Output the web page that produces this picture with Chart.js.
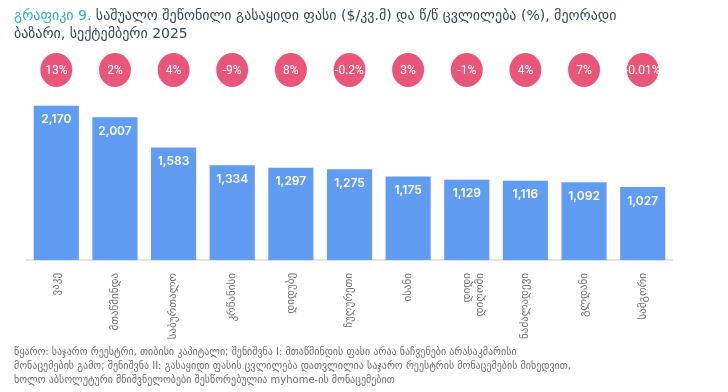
<!DOCTYPE html>
<html>
<head>
<meta charset="utf-8">
<script src="https://cdn.jsdelivr.net/npm/chart.js@4.4.0/dist/chart.umd.min.js"></script>
<style>
  html, body { margin: 0; padding: 0; background: #fff; }
  #wrap { position: relative; width: 728px; height: 392px; overflow: hidden; }
  #chart { position: absolute; left: 0; top: 0; }
  .title { position: absolute; left: 14px; top: 6px; width: 700px; font: 14px "DejaVu Sans", sans-serif; color: #34495e; line-height: 18px; }
  .title span { color: #2ab3bd; }
  .note { position: absolute; left: 14px; top: 345px; width: 710px; font: 10px "DejaVu Sans", sans-serif; color: #6b6b6b; line-height: 14px; }
</style>
</head>
<body>
<div id="wrap">
  <canvas id="chart" width="728" height="392"></canvas>
  <div class="title"><span>გრაფიკი 9.</span> საშუალო შეწონილი გასაყიდი ფასი ($/კვ.მ) და წ/წ ცვლილება (%), მეორადი<br>ბაზარი, სექტემბერი 2025</div>
  <div class="note">წყარო: საჯარო რეესტრი, თიბისი კაპიტალი; შენიშვნა I: მთაწმინდის ფასი არაა ნაჩვენები არასაკმარისი<br>მონაცემების გამო; შენიშვნა II: გასაყიდი ფასის ცვლილება დათვლილია საჯარო რეესტრის მონაცემების მიხედვით,<br>ხოლო აბსოლუტური მნიშვნელობები შესწორებულია myhome-ის მონაცემებით</div>
</div>
<script>
//********************* data *********************
const districts = ['ვაკე', 'მთაწმინდა', 'საბურთალო', 'კრწანისი', 'დიდუბე', 'ჩუღურეთი', 'ისანი', ['დიდი', 'დიღომი'], 'ნაძალადევი', 'გლდანი', 'სამგორი'];
const prices = [2170, 2007, 1583, 1334, 1297, 1275, 1175, 1129, 1116, 1092, 1027];
const changes = ['13%', '2%', '4%', '-9%', '8%', '-0.2%', '3%', '-1%', '4%', '7%', '-0.01%'];

const barColor = '#609cf1';
const pink = '#ea557a';

//value labels inside the bars
const valueLabels = {
  id: 'valueLabels',
  afterDatasetsDraw(chart) {
    const ctx = chart.ctx;
    const meta = chart.getDatasetMeta(0);
    ctx.save();
    ctx.fillStyle = '#fff';
    ctx.font = '600 12px Inter, sans-serif';
    ctx.textAlign = 'center';
    ctx.textBaseline = 'middle';
    meta.data.forEach((bar, i) => {
      ctx.fillText(prices[i].toLocaleString('en-US'), bar.x, bar.y + 14);
    });
    ctx.restore();
  }
};

//pink circles with y/y change above each category
const changeCircles = {
  id: 'changeCircles',
  afterDraw(chart) {
    const ctx = chart.ctx;
    const xs = chart.scales.x;
    ctx.save();
    changes.forEach((txt, i) => {
      const cx = xs.getPixelForValue(i);
      ctx.fillStyle = pink;
      ctx.beginPath();
      ctx.ellipse(cx, 70, 16, 17, 0, 0, Math.PI * 2);
      ctx.fill();
      ctx.fillStyle = '#fff';
      ctx.font = '12px "Liberation Sans Narrow", Roboto, sans-serif';
      ctx.textAlign = 'center';
      ctx.textBaseline = 'middle';
      ctx.fillText(txt, cx, 70.5);
    });
    ctx.restore();
  }
};

new Chart(document.getElementById('chart'), {
  type: 'bar',
  data: {
    labels: districts,
    datasets: [{
      data: prices,
      backgroundColor: barColor,
      barPercentage: 0.77,
      categoryPercentage: 1
    }]
  },
  options: {
    responsive: false,
    animation: false,
    layout: { padding: { left: 27, right: 56, top: 100, bottom: 52 } },
    plugins: { legend: { display: false }, tooltip: { enabled: false } },
    scales: {
      x: {
        grid: { display: false },
        border: { display: true, color: '#e3e3e3', width: 2 },
        ticks: {
          color: '#707070',
          font: { family: 'DejaVu Sans', size: 11 },
          minRotation: 90,
          maxRotation: 90,
          padding: 5,
          autoSkip: false
        },
        afterFit: (s) => { s.height = 80; }
      },
      y: {
        display: false,
        min: 0,
        max: 2250
      }
    }
  },
  plugins: [valueLabels, changeCircles]
});
</script>
</body>
</html>
